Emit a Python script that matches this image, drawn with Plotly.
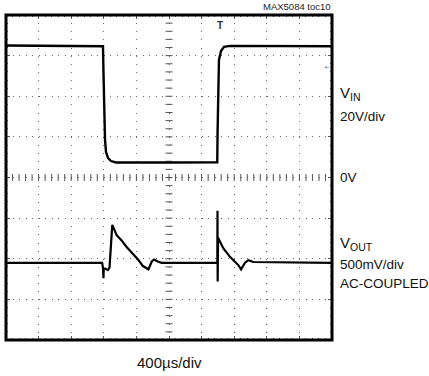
import numpy as np
import plotly.graph_objects as go

# Scope settings
T_DIV_US = 400          # horizontal: 400 us/div, 10 divisions
VIN_V_PER_DIV = 20      # VIN: 20 V/div, ground at centre line
VOUT_MV_PER_DIV = 500   # VOUT: 500 mV/div, AC-coupled
VOUT_OFFSET_DIV = -2.1  # VOUT trace position on screen (divisions)

# VIN trace (time in us, volts)
vin_t = [0, 600, 1190, 1196, 1202, 1209, 1215, 1227, 1252, 1288, 1350, 2000,
         2592, 2596, 2601, 2607, 2613, 2638, 2675, 2748, 3400, 4000]
vin_v = [65.0, 64.8, 64.6, 52.0, 38.2, 27.0, 18.5, 12.6, 9.6, 8.1, 7.4, 7.4,
         7.5, 22.0, 38.2, 50.0, 57.9, 62.3, 64.3, 64.8, 64.6, 64.6]

# VOUT trace (time in us, mV, AC-coupled)
vout_t = [0, 1180, 1190, 1196, 1199, 1215, 1235, 1250, 1270, 1290, 1304,
          1358, 1419, 1480, 1560, 1623, 1680, 1715, 1748, 1788, 1816,
          1869, 1910, 2593, 2595, 2597, 2602, 2666, 2748, 2850, 2884,
          2933, 2973, 3035, 4000]
vout_mv = [0, 0, -65, -190, -80, -70, -85, -90, -60, 260, 467,
           340, 275, 195, 110, 37, -40, -65, -80, 16, 40,
           12, 0, 0, 640, -230, 310, 180, 74, -28, -80,
           2, 33, 10, 0]

# Screen coordinates in divisions
vin_div = [v / VIN_V_PER_DIV for v in vin_v]
vout_div = [m / VOUT_MV_PER_DIV + VOUT_OFFSET_DIV for m in vout_mv]

X_MAX = 10 * T_DIV_US
FONT = "Liberation Sans, Arial, sans-serif"

fig = go.Figure()

# Graticule centre-line tick marks (every 1/5 division)
cx = np.arange(0, X_MAX + 1, T_DIV_US / 5)
cy = np.arange(-4, 4.001, 0.2)
fig.add_trace(go.Scatter(
    x=cx, y=[0] * len(cx), mode="markers", hoverinfo="skip",
    marker=dict(symbol="line-ns", size=5, line=dict(width=1, color="#555"))))
fig.add_trace(go.Scatter(
    x=[X_MAX / 2] * len(cy), y=cy, mode="markers", hoverinfo="skip",
    marker=dict(symbol="line-ew", size=5, line=dict(width=1, color="#555"))))

# Waveforms
fig.add_trace(go.Scatter(x=vin_t, y=vin_div, mode="lines",
                         line=dict(color="black", width=2.4)))
fig.add_trace(go.Scatter(x=vout_t, y=vout_div, mode="lines",
                         line=dict(color="black", width=2.2)))

# Screen frame
fig.add_shape(type="rect", xref="paper", yref="paper", x0=0, y0=0, x1=1, y1=1,
              line=dict(color="black", width=3))

def label(text, ypix, size=13.5):
    fig.add_annotation(text=text, xref="paper", yref="paper",
                       x=(338 - 6) / 326, y=(340 - ypix) / 325,
                       xanchor="left", yanchor="middle", showarrow=False,
                       font=dict(family=FONT, size=size, color="#111"))

label("V<sub>IN</sub>", 93, 15)
label("20V/div", 116)
label("0V", 178)
label("V<sub>OUT</sub>", 243, 15)
label("500mV/div", 264)
label("AC-COUPLED", 283)

fig.add_annotation(text="400\u00b5s/div", xref="paper", yref="paper",
                   x=0.5, y=(340 - 362) / 325, xanchor="center", yanchor="middle",
                   showarrow=False, font=dict(family=FONT, size=15, color="#111"))
fig.add_annotation(text="MAX5084 toc10", xref="paper", yref="paper",
                   x=1.003, y=(340 - 7) / 325, xanchor="right", yanchor="middle",
                   showarrow=False, font=dict(family=FONT, size=9.5, color="#222"))

# Trigger position and trigger level markers
fig.add_annotation(text="<b>T</b>", xref="paper", yref="paper",
                   x=(220 - 6) / 326, y=(340 - 25) / 325,
                   xanchor="center", yanchor="middle", showarrow=False,
                   font=dict(family=FONT, size=10, color="#333"))
fig.add_annotation(text="\u2190", xref="paper", yref="paper",
                   x=(328 - 6) / 326, y=(340 - 65) / 325,
                   xanchor="center", yanchor="middle", showarrow=False,
                   font=dict(family=FONT, size=10, color="#222"))

axis_common = dict(showticklabels=False, zeroline=False, showline=False,
                   gridcolor="#666", gridwidth=1, fixedrange=True,
                   ticks="inside", ticklen=4, tickcolor="#555", mirror="ticks")

fig.update_xaxes(range=[0, X_MAX], dtick=T_DIV_US, tick0=0,
                 griddash="1px,7.125px",
                 minor=dict(dtick=T_DIV_US / 5, ticks="inside", ticklen=2,
                            tickcolor="#555", showgrid=False),
                 **axis_common)
fig.update_yaxes(range=[-4, 4], dtick=1, tick0=0,
                 griddash="1px,5.52px",
                 minor=dict(dtick=0.2, ticks="inside", ticklen=2,
                            tickcolor="#555", showgrid=False),
                 **axis_common)

fig.update_layout(width=429, height=376, showlegend=False,
                  margin=dict(l=6, r=97, t=15, b=36),
                  paper_bgcolor="white", plot_bgcolor="white")

fig.write_html("out.html")
